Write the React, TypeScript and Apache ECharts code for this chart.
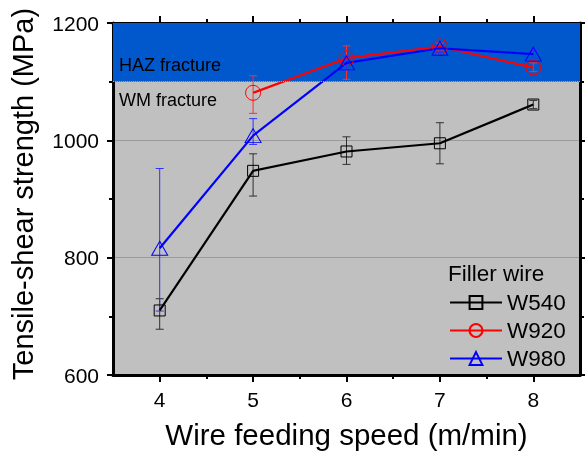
import React, { useEffect, useRef } from "react";
import * as echarts from "echarts";

const speeds = [4, 5, 6, 7, 8];
const w540 = [710, 948, 981, 995, 1061];
const w540Low = [678, 905, 959, 960, 1054];
const w540High = [730, 977, 1006, 1030, 1068];
const w920 = [null, 1081, 1140, 1160, 1124];
const w920Low = [null, 1046, 1104, 1154, 1117];
const w920High = [null, 1110, 1161, 1166, 1132];
const w980 = [816, 1008, 1132, 1157, 1147];
const w980Low = [709, 993, 1120, 1150, 1141];
const w980High = [952, 1037, 1142, 1162, 1153];
const xMajorTicks = [4, 5, 6, 7, 8];
const xMinorTicks = [4.5, 5.5, 6.5, 7.5];
const seriesNames = ["W540", "W920", "W980"];

const FONT = "Liberation Sans, Arial, sans-serif";

function pairs(vals: (number | null)[]) {
  const out: number[][] = [];
  speeds.forEach((s, i) => {
    const v = vals[i];
    if (v !== null && v !== undefined) out.push([s, v]);
  });
  return out;
}
function errs(lo: (number | null)[], hi: (number | null)[]) {
  const out: number[][] = [];
  speeds.forEach((s, i) => {
    const a = lo[i];
    const b = hi[i];
    if (a !== null && b !== null) out.push([s, a as number, b as number]);
  });
  return out;
}

function errSeries(name: string, data: number[][], color: string) {
  return {
    type: "custom",
    name,
    data,
    encode: { x: 0, y: [1, 2] },
    z: 3,
    renderItem: (params: any, api: any) => {
      const x = api.value(0);
      const p1 = api.coord([x, api.value(1)]);
      const p2 = api.coord([x, api.value(2)]);
      const w = 4;
      const st = { stroke: color, lineWidth: 1 };
      return {
        type: "group",
        children: [
          { type: "line", shape: { x1: p1[0], y1: p1[1], x2: p2[0], y2: p2[1] }, style: st },
          { type: "line", shape: { x1: p1[0] - w, y1: p1[1], x2: p1[0] + w, y2: p1[1] }, style: st },
          { type: "line", shape: { x1: p2[0] - w, y1: p2[1], x2: p2[0] + w, y2: p2[1] }, style: st },
        ],
      };
    },
  };
}

function lineSeries(name: string, data: number[][], color: string, symbol: string, size: any) {
  return {
    type: "line",
    name,
    data,
    symbol,
    symbolSize: size,
    z: 4,
    lineStyle: { color, width: 2.2 },
    itemStyle: { color: "rgba(0,0,0,0)", borderColor: color, borderWidth: 1 },
  };
}

export default function App() {
  const ref = useRef<HTMLDivElement>(null);
  useEffect(() => {
    if (!ref.current) return;
    const chart = echarts.init(ref.current, undefined, { renderer: "svg" });
    const axisLine = { show: true, lineStyle: { color: "#000", width: 3 } };
    const xBase = { type: "value", min: 3.5, max: 8.5, gridIndex: 0 };
    const yBase = { type: "value", min: 600, max: 1200, interval: 200 };
    chart.setOption({
      animation: false,
      grid: {
        left: 113,
        right: 5,
        top: 23,
        bottom: 77,
        show: true,
        backgroundColor: "#c0c0c0",
        borderWidth: 0,
      },
      xAxis: [
        {
          ...xBase,
          position: "bottom",
          axisLine,
          axisTick: { show: true, length: 7, lineStyle: { color: "#000", width: 2 }, customValues: xMajorTicks },
          axisLabel: { show: true, customValues: xMajorTicks, fontSize: 21, color: "#000", fontFamily: FONT, margin: 14 },
          splitLine: { show: false },
          name: "Wire feeding speed (m/min)",
          nameLocation: "middle",
          nameGap: 44,
          nameTextStyle: { fontSize: 29.5, color: "#000", fontFamily: FONT },
        },
        {
          ...xBase,
          position: "bottom",
          axisLine: { show: false },
          axisTick: { show: true, length: 4, lineStyle: { color: "#000", width: 2 }, customValues: xMinorTicks },
          axisLabel: { show: false },
          splitLine: { show: false },
        },
        {
          ...xBase,
          position: "top",
          axisLine,
          axisTick: { show: true, length: 7, lineStyle: { color: "#000", width: 2 }, customValues: xMajorTicks },
          axisLabel: { show: false },
          splitLine: { show: false },
        },
        {
          ...xBase,
          position: "top",
          axisLine: { show: false },
          axisTick: { show: true, length: 4, lineStyle: { color: "#000", width: 2 }, customValues: xMinorTicks },
          axisLabel: { show: false },
          splitLine: { show: false },
        },
      ],
      yAxis: [
        {
          ...yBase,
          position: "left",
          axisLine,
          axisTick: { show: true, length: 6, lineStyle: { color: "#000", width: 2 } },
          minorTick: { show: true, splitNumber: 2, length: 4, lineStyle: { color: "#000", width: 2 } },
          axisLabel: {
            fontSize: 21,
            color: "#000",
            fontFamily: FONT,
            margin: 14,
            formatter: (v: number) => String(v),
          },
          splitLine: { show: true, lineStyle: { color: "#9a9a9a", width: 1 } },
          name: "Tensile-shear strength (MPa)",
          nameLocation: "middle",
          nameGap: 76,
          nameTextStyle: { fontSize: 29, color: "#000", fontFamily: FONT, padding: [0, 0, 0, 10] },
        },
        {
          ...yBase,
          position: "right",
          axisLine,
          axisTick: { show: true, length: 6, lineStyle: { color: "#000", width: 2 } },
          minorTick: { show: true, splitNumber: 2, length: 4, lineStyle: { color: "#000", width: 2 } },
          axisLabel: { show: false },
          splitLine: { show: false },
        },
      ],
      legend: {
        data: seriesNames,
        orient: "vertical",
        left: 449,
        top: 291,
        padding: 0,
        itemWidth: 52,
        itemHeight: 16,
        itemGap: 5,
        textStyle: { fontSize: 22.5, color: "#000", fontFamily: FONT },
      },
      graphic: [
        { type: "text", left: 448, top: 262, style: { text: "Filler wire", fontSize: 22.5, fill: "#000", fontFamily: FONT } },
        { type: "text", x: 119, y: 65, style: { text: "HAZ fracture", fontSize: 18, fill: "#000", fontFamily: FONT, verticalAlign: "middle" }, z: 10 },
        { type: "text", x: 119, y: 99.5, style: { text: "WM fracture", fontSize: 18, fill: "#000", fontFamily: FONT, verticalAlign: "middle" }, z: 10 },
      ],
      series: [
        {
          type: "line",
          name: "band",
          data: [],
          markArea: {
            silent: true,
            itemStyle: { color: "#0058cc" },
            data: [[{ yAxis: 1100 }, { yAxis: 1200 }]],
          },
          markLine: {
            silent: true,
            symbol: "none",
            label: { show: false },
            lineStyle: { color: "#5ab4f0", type: "dotted", width: 1 },
            data: [{ yAxis: 1100 }],
          },
        },
        errSeries("e540", errs(w540Low, w540High), "#303030"),
        lineSeries("W540", pairs(w540), "#000000", "rect", 11),
        errSeries("e920", errs(w920Low, w920High), "#ff3030"),
        lineSeries("W920", pairs(w920), "#ff0000", "circle", 15),
        errSeries("e980", errs(w980Low, w980High), "#3030ff"),
        lineSeries("W980", pairs(w980), "#0000ff", "triangle", [16, 14]),
      ],
    });
    return () => chart.dispose();
  }, []);
  return <div ref={ref} style={{ position: "fixed", left: 0, top: 0, width: 585, height: 454 }} />;
}
